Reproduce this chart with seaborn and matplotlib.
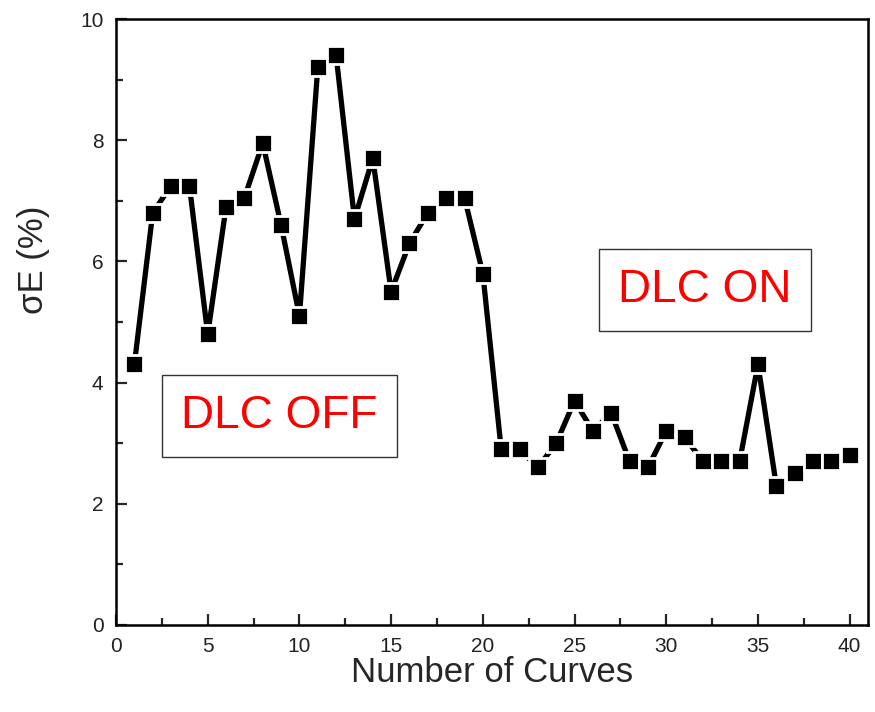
import matplotlib
matplotlib.use("Agg")
import matplotlib.pyplot as plt
import seaborn as sns
import pandas as pd
from matplotlib.ticker import MultipleLocator

# values
curves = list(range(1, 41))
sigma_e = [4.3, 6.8, 7.25, 7.25, 4.8, 6.9, 7.05, 7.95, 6.6, 5.1,
           9.2, 9.4, 6.7, 7.7, 5.5, 6.3, 6.8, 7.05, 7.05, 5.8,
           2.9, 2.9, 2.6, 3.0, 3.7, 3.2, 3.5, 2.7, 2.6, 3.2,
           3.1, 2.7, 2.7, 2.7, 4.3, 2.3, 2.5, 2.7, 2.7, 2.8]
x_ticks = [0, 5, 10, 15, 20, 25, 30, 35, 40]
y_ticks = [0, 2, 4, 6, 8, 10]

sns.set_style("ticks")
plt.rcParams['font.family'] = ['Liberation Sans', 'DejaVu Sans']

df = pd.DataFrame({'curve': curves, 'sigma': sigma_e})

fig = plt.figure(figsize=(8.75, 7.12), dpi=100)
ax = fig.add_axes([0.1326, 0.1222, 0.8594, 0.8511])

sns.lineplot(data=df, x='curve', y='sigma', ax=ax, color='black',
             linewidth=3.8, marker='s', markersize=12.5,
             markerfacecolor='black', markeredgecolor='white',
             markeredgewidth=2.0)

ax.set_xlim(0, 41)
ax.set_ylim(0, 10)
ax.set_xticks(x_ticks)
ax.set_yticks(y_ticks)
ax.xaxis.set_minor_locator(MultipleLocator(2.5))
ax.yaxis.set_minor_locator(MultipleLocator(1))
ax.tick_params(axis='both', which='major', direction='in', length=8,
               width=1.6, labelsize=15, labelcolor='#222222', pad=9,
               top=False, right=False)
ax.tick_params(axis='both', which='minor', direction='in', length=5,
               width=1.6, top=False, right=False)
for side in ['left', 'bottom', 'top', 'right']:
    ax.spines[side].set_linewidth(1.8)
    ax.spines[side].set_color('black')

ax.set_xlabel('Number of Curves', fontsize=25, labelpad=0)
ax.set_ylabel('σE (%)', fontsize=25)
ax.yaxis.set_label_coords(-0.088, 0.602)

box = dict(boxstyle='square,pad=0.42', facecolor='white',
           edgecolor='#333333', linewidth=1.0)
ax.text(8.9, 3.45, 'DLC OFF', color='#ff0000', fontsize=33,
        ha='center', va='center', bbox=box)
ax.text(32.1, 5.53, 'DLC ON', color='#ff0000', fontsize=33,
        ha='center', va='center', bbox=box)

fig.savefig('out.png', dpi=100)
